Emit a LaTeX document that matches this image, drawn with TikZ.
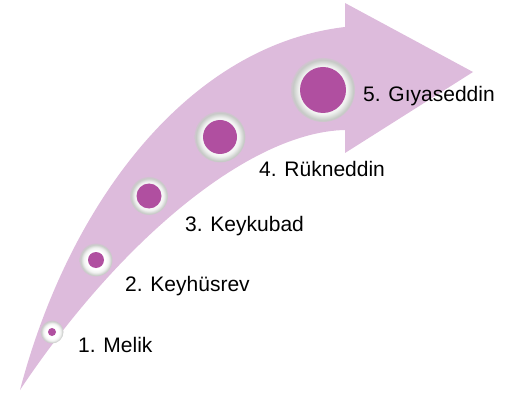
\documentclass[tikz,border=0pt]{standalone}
\usepackage{fontspec}
\setmainfont{Liberation Sans}
\definecolor{arrowfill}{HTML}{DDBBDC}
\definecolor{dotfill}{HTML}{B04FA0}
\definecolor{ringlight}{HTML}{F0F1F0}
\definecolor{ringgray}{HTML}{C6CAC6}
\definecolor{ringedge}{HTML}{D2C3D1}
\pgfdeclareradialshading{ringshade}{\pgfpoint{0bp}{0bp}}{color(0bp)=(white); color(14bp)=(white); color(19bp)=(ringlight); color(23.5bp)=(ringgray); color(25bp)=(ringedge); color(50bp)=(ringedge)}
\tikzset{
  ring/.style={circle, inner sep=0pt, shading=ringshade},
  dot/.style={circle, inner sep=0pt, fill=dotfill},
  lab/.style={anchor=base west, inner sep=0pt, font=\fontsize{21}{25}\selectfont, text=black}
}
\begin{document}
\begin{tikzpicture}[x=1pt,y=-1pt]
\useasboundingbox (0,0) rectangle (513,395);
% arrow
\fill[arrowfill] (20,390) .. controls (70,200) and (190,45) .. (345,27)
  -- (345,3) -- (473,72) -- (345,153) -- (345,130)
  .. controls (250,132) and (120,240) .. (20,390) -- cycle;
% circles
\node[ring, minimum size=23pt] (c1) at (52,332) {};
\node[dot, minimum size=8pt] (d1) at (c1) {};
\node[ring, minimum size=33pt] (c2) at (96,260) {};
\node[dot, minimum size=16pt] (d2) at (c2) {};
\node[ring, minimum size=38pt] (c3) at (149,196) {};
\node[dot, minimum size=25pt] (d3) at (c3) {};
\node[ring, minimum size=51pt] (c4) at (220,137) {};
\node[dot, minimum size=34pt] (d4) at (c4) {};
\node[ring, minimum size=64pt] (c5) at (323,90) {};
\node[dot, minimum size=46pt] (d5) at (c5) {};
% labels
\node[lab] (l1) at (78,352) {1. Melik};
\node[lab] (l2) at (125,291) {2. Keyhüsrev};
\node[lab] (l3) at (185,231) {3. Keykubad};
\node[lab] (l4) at (259,177) {4. Rükneddin};
\node[lab] (l5) at (363,102) {5. Gıyaseddin};
\end{tikzpicture}
\end{document}
